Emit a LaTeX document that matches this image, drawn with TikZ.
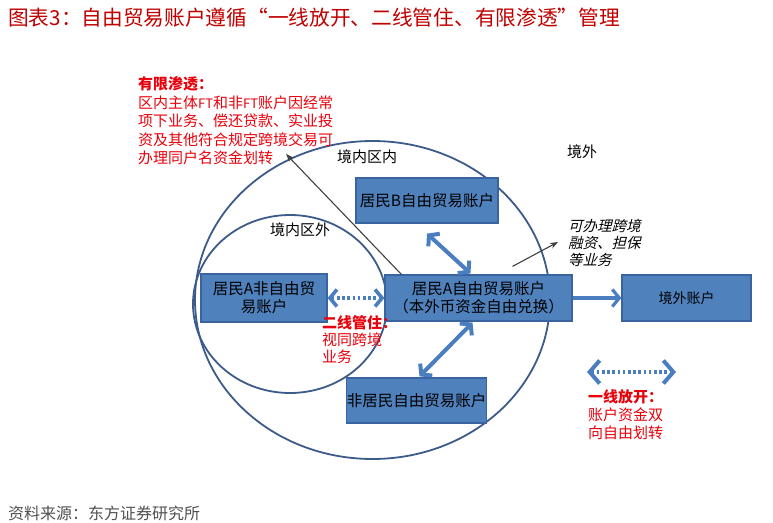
\documentclass[tikz,border=0pt]{standalone}
\usepackage{fontspec}
\setmainfont{Noto Sans CJK SC}
\newfontfamily\cjkit[FakeSlant=0.25]{Noto Sans CJK SC}
\usetikzlibrary{arrows.meta}
\definecolor{titlered}{HTML}{C00000}
\definecolor{txtred}{HTML}{E8000B}
\definecolor{boxfill}{HTML}{4F81BD}
\definecolor{boxline}{HTML}{3A64A0}
\definecolor{ringcol}{HTML}{3C5A8A}
\definecolor{arrowblue}{HTML}{4A7EC0}
\definecolor{srcgray}{HTML}{505050}
\newcommand\fsz[2]{\fontsize{#1}{#2}\selectfont}
\begin{document}
\begin{tikzpicture}[x=1pt,y=-1pt,
  acct/.style={draw=boxline, line width=1.2pt, fill=boxfill, inner sep=0pt, align=center, text=black, font=\fsz{15.5}{18}},
  ring/.style={draw=ringcol, line width=1.8pt},
  barb/.tip={Straight Barb[length=7pt,width=17pt]},
  bigbarb/.tip={Straight Barb[length=10pt,width=23pt]},
  twoway/.style={draw=arrowblue, line width=4pt, barb-barb},
  oneway/.style={draw=arrowblue, line width=3.2pt, -barb},
  dotway/.style={draw=arrowblue, line width=3.6pt, dash pattern=on 2.6pt off 2.6pt, barb-barb},
  pointer/.style={draw=black!75, line width=1.1pt, -{Stealth[length=8pt,width=6pt]}},
  plain/.style={inner sep=0pt, text=black, font=\fsz{15}{18}},
  redtxt/.style={inner sep=0pt, text=txtred, align=left, anchor=west},
]
\useasboundingbox (0,0) rectangle (773,522);

% title
\node[inner sep=0pt, anchor=west, text=titlered, font=\fsz{20.7}{24}] (title) at (8,18) {图表3：自由贸易账户遵循“一线放开、二线管住、有限渗透”管理};

% regions
\draw[ring] (372.5,300) ellipse [x radius=177.5, y radius=159];
\draw[ring] (290,304) ellipse [x radius=97, y radius=89];

% region labels
\node[plain] (inzone) at (367,157) {境内区内};
\node[plain] (abroad) at (582,152) {境外};
\node[plain] (outzone) at (300,230) {境内区外};

% accounts
\node[acct, minimum width=142pt, minimum height=45pt] (bbox) at (427,200.5) {居民B自由贸易账户};
\node[acct, minimum width=126pt, minimum height=48pt] (anbox) at (264,298) {居民A非自由贸\\易账户};
\node[acct, minimum width=187pt, minimum height=46pt] (afbox) at (478.5,298) {居民A自由贸易账户\\（本外币资金自由兑换）};
\node[acct, minimum width=135pt, minimum height=45pt] (nrbox) at (416.5,400.5) {非居民自由贸易账户};
\node[acct, minimum width=129pt, minimum height=46pt, font=\fsz{14}{17}] (ovbox) at (686.5,298) {境外账户};

% blue arrows
\draw[oneway] (afbox.east) -- (ovbox.west);
\draw[twoway] ([shift={(0,10)}]bbox.south) -- ([shift={(-8,-1)}]afbox.north);
\draw[twoway] ([shift={(-6,1)}]afbox.south) -- ([shift={(3,-1)}]nrbox.north);
\draw[dotway] (anbox.east) -- (afbox.west);

% annotations
\node[redtxt, font=\fsz{15}{18.5}] (limited) at (138,121) {\textbf{有限渗透：}\\区内主体{\fsz{13}{18.5}FT}和非{\fsz{13}{18.5}FT}账户因经常\\项下业务、偿还贷款、实业投\\资及其他符合规定跨境交易可\\办理同户名资金划转};
\coordinate (limtip) at (286,154);
\draw[pointer] ([shift={(17,0)}]afbox.north west) -- (limtip);

\node[inner sep=0pt, anchor=west, align=left, text=black, font=\cjkit\fsz{14.5}{17}] (crossnote) at (568,243) {可办理跨境\\融资、担保\\等业务};
\coordinate (crosstip) at (558,242);
\draw[pointer] ([shift={(34,-8)}]afbox.north) -- (crosstip);

\node[redtxt, font=\fsz{15}{17}] (second) at (322,340) {\textbf{二线管住：}\\视同跨境\\业务};

% legend
\coordinate (lgl) at (587,372);
\coordinate (lgr) at (676,372);
\draw[dotway, line width=4pt, bigbarb-bigbarb] (lgl) -- (lgr);
\node[redtxt, font=\fsz{15}{18}] (first) at (588,415) {\textbf{一线放开：}\\账户资金双\\向自由划转};

% source
\node[inner sep=0pt, anchor=west, text=srcgray, font=\fsz{16}{18}] (source) at (8,513) {资料来源：东方证券研究所};
\end{tikzpicture}
\end{document}
